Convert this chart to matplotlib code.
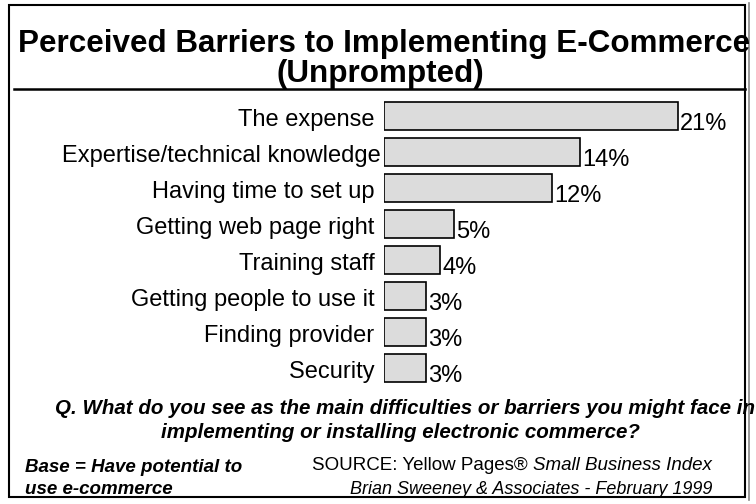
import numpy as np
import matplotlib.pyplot as plt
from matplotlib.patches import Rectangle
from matplotlib.lines import Line2D

plt.rcParams['font.family'] = ['Liberation Sans', 'DejaVu Sans']

# survey results, top to bottom
barriers = ["The expense ", "Expertise/technical knowledge", "Having time to set up ",
            "Getting web page right ", "Training staff ", "Getting people to use it ",
            "Finding provider ", "Security "]
percent = [21, 14, 12, 5, 4, 3, 3, 3]

W, H = 756, 504
fig = plt.figure(figsize=(W / 100, H / 100), dpi=100)
fig.patch.set_facecolor('white')

def fx(px):
    return px / W

def fy(py):
    return 1 - py / H

# slide frame
fig.add_artist(Rectangle((fx(9), fy(497)), fx(745) - fx(9), fy(5) - fy(497),
                         fill=False, ec='black', lw=1.5, transform=fig.transFigure))
fig.add_artist(Line2D([fx(749), fx(749)], [fy(3), fy(500)], color='#888888', lw=1.2,
                      transform=fig.transFigure))

# title and rule below it
fig.text(fx(18), fy(44), "Perceived Barriers to Implementing E-Commerce", fontsize=22.6,
         fontweight='bold', ha='left', va='center')
fig.text(fx(380), fy(74), "(Unprompted)", fontsize=22.6, fontweight='bold', ha='center', va='center')
fig.add_artist(Line2D([fx(14), fx(745)], [fy(89), fy(89)], color='black', lw=1.8,
                      transform=fig.transFigure))

# bar area: 14 px per percent, 36 px per row
ax = fig.add_axes([fx(384), fy(386), fx(350), fy(98) - fy(386)])
y = np.arange(len(barriers))
ax.barh(y, percent, height=0.8, color='#dcdcdc', edgecolor='black', linewidth=1.2)
ax.set_xlim(0, 25)
ax.set_ylim(len(barriers) - 0.5, -0.5)
ax.axis('off')

for yi, name, v in zip(y, barriers, percent):
    ax.text(-0.2, yi + 0.1, name, ha='right', va='center', fontsize=17)
    ax.text(v + 0.15, yi + 0.22, f"{v}%", ha='left', va='center', fontsize=17)

# question wording
fig.text(fx(405), fy(409), "Q. What do you see as the main difficulties or barriers you might face in",
         fontsize=14.8, fontweight='bold', fontstyle='italic', ha='center', va='center')
fig.text(fx(400), fy(432), "implementing or installing electronic commerce?",
         fontsize=14.8, fontweight='bold', fontstyle='italic', ha='center', va='center')

# footer
fig.text(fx(25), fy(468), "Base = Have potential to", fontsize=13.5, fontweight='bold',
         fontstyle='italic', ha='left', va='center')
fig.text(fx(25), fy(489), "use e-commerce", fontsize=13.5, fontweight='bold',
         fontstyle='italic', ha='left', va='center')
src = fig.text(fx(312), fy(466), "SOURCE: Yellow Pages\u00ae ", fontsize=13.5, ha='left', va='center')
fig.canvas.draw()
bb = src.get_window_extent()
fig.text(bb.x1 / W, fy(466), "Small Business Index", fontsize=13.5, fontstyle='italic',
         ha='left', va='center')
fig.text(fx(712), fy(490), "Brian Sweeney & Associates - February 1999", fontsize=13,
         fontstyle='italic', ha='right', va='center')

fig.savefig('out.png', dpi=100)
